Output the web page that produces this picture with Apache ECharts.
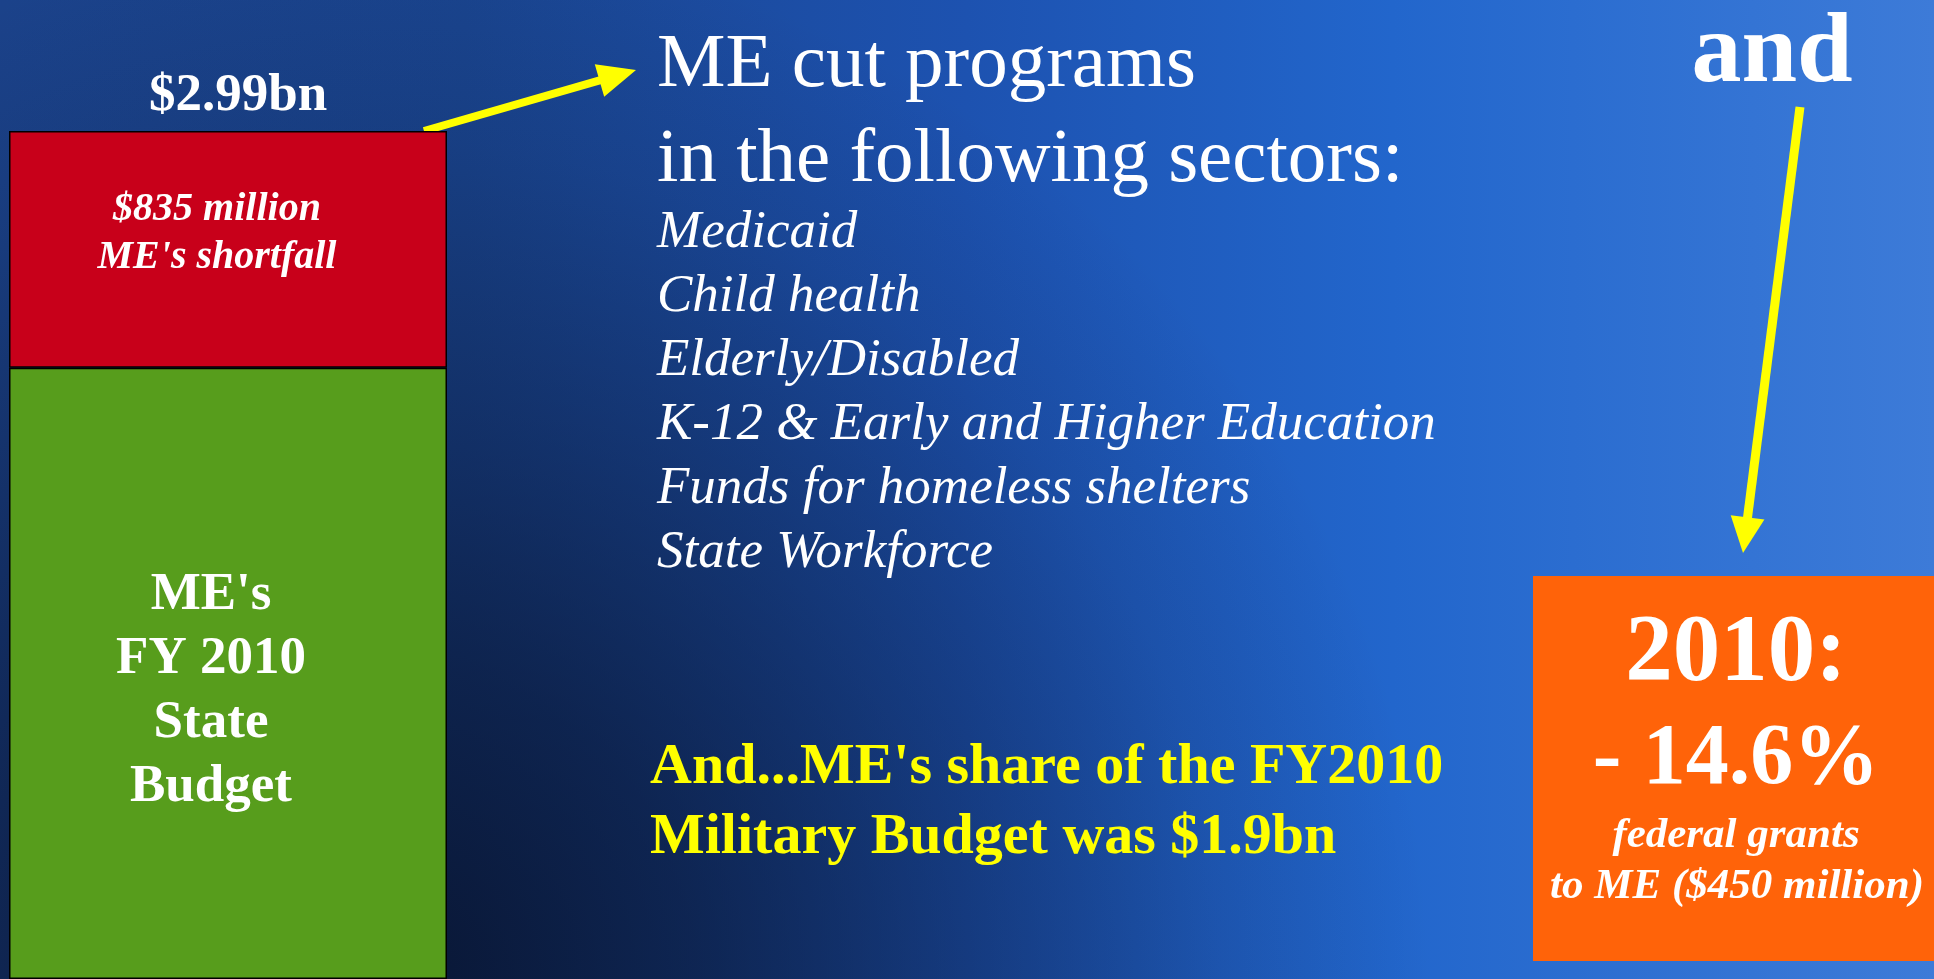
<!DOCTYPE html>
<html>
<head>
<meta charset="utf-8">
<script src="https://cdn.jsdelivr.net/npm/echarts@6/dist/echarts.min.js"></script>
<style>html,body{margin:0;padding:0;background:#0e1d40;}#c{width:1934px;height:979px;}</style>
</head>
<body>
<div id="c"></div>
<script>
// ---- data ----
const categories = ["ME FY 2010"];
const budgetValues = [2.155];      // ME's FY 2010 State Budget (bn)
const shortfallValues = [0.835];   // ME's shortfall (bn)
const totalText = "$2.99bn";
const shortfallLabelLines = ["$835 million", "ME's shortfall"];
const budgetLabelLines = ["ME's", "FY 2010", "State", "Budget"];
const headingLines = ["ME cut programs", "in the following sectors:"];
const sectorLines = ["Medicaid", "Child health", "Elderly/Disabled", "K-12 & Early and Higher Education", "Funds for homeless shelters", "State Workforce"];
const militaryLines = ["And...ME's share of the FY2010", "Military Budget was $1.9bn"];
const andText = "and";
const grantLines = ["2010:", "- 14.6%", "federal grants", "to ME ($450 million)"];

const totals = budgetValues.map((v, i) => +(v + shortfallValues[i]).toFixed(3));
const SERIF = '"Liberation Serif", "Times New Roman", serif';

function arrow(x1, y1, x2, y2, lw, headLen, headHalf, z) {
  const dx = x2 - x1, dy = y2 - y1, L = Math.hypot(dx, dy);
  const ux = dx / L, uy = dy / L, nx = -uy, ny = ux;
  const bx = x2 - ux * headLen, by = y2 - uy * headLen;
  return [
    { type: 'line', z: z, shape: { x1: x1, y1: y1, x2: bx + ux * 2, y2: by + uy * 2 }, style: { stroke: '#ffff00', lineWidth: lw } },
    { type: 'polygon', z: z, shape: { points: [[x2, y2], [bx + nx * headHalf, by + ny * headHalf], [bx - nx * headHalf, by - ny * headHalf]] }, style: { fill: '#ffff00' } }
  ];
}
function txt(s, x, y, font, fill, align) {
  return { type: 'text', z: 5, x: x, y: y, style: { text: s, font: font, fill: fill, textAlign: align || 'left', textVerticalAlign: 'middle' } };
}

const graphics = [];
// background shading overlay (dark glow bottom-left)
graphics.push({
  type: 'rect', z: -10, silent: true,
  shape: { x: 0, y: 0, width: 1934, height: 979 },
  style: { fill: { type: 'radial', x: 380, y: 979, r: 1050, global: true,
    colorStops: [
      { offset: 0, color: 'rgba(6,14,36,0.85)' },
      { offset: 0.3, color: 'rgba(6,14,36,0.62)' },
      { offset: 0.55, color: 'rgba(6,14,36,0.36)' },
      { offset: 0.8, color: 'rgba(6,14,36,0.12)' },
      { offset: 1, color: 'rgba(6,14,36,0)' } ] } }
});
// arrows
arrow(424, 131, 636, 70, 8, 38, 17, 1).forEach(g => graphics.push(g));
arrow(1800, 107, 1743, 553, 9, 36, 17, 1).forEach(g => graphics.push(g));
// heading
headingLines.forEach((s, i) => graphics.push(txt(s, 657, 66 + i * 95, '77px ' + SERIF, '#ffffff')));
sectorLines.forEach((s, i) => graphics.push(txt(s, 657, 233 + i * 64, 'italic 53px ' + SERIF, '#ffffff')));
militaryLines.forEach((s, i) => graphics.push(txt(s, 650, 768 + i * 70, 'bold 58px ' + SERIF, '#ffff00')));
graphics.push(txt(andText, 1772, 55, 'bold 100px ' + SERIF, '#ffffff', 'center'));
// orange box
graphics.push({ type: 'rect', z: 3, shape: { x: 1533, y: 576, width: 401, height: 385 }, style: { fill: '#ff6309' } });
graphics.push(txt(grantLines[0], 1736, 655, 'bold 95px ' + SERIF, '#ffffff', 'center'));
graphics.push(txt(grantLines[1], 1736, 761, 'bold 86px ' + SERIF, '#ffffff', 'center'));
graphics.push(txt(grantLines[2], 1736, 836, 'italic bold 43px ' + SERIF, '#ffffff', 'center'));
graphics.push(txt(grantLines[3], 1737, 887, 'italic bold 43px ' + SERIF, '#ffffff', 'center'));

const chart = echarts.init(document.getElementById('c'), null, { renderer: 'canvas' });
chart.setOption({
  animation: false,
  backgroundColor: { type: 'linear', x: 0, y: 0, x2: 1, y2: 0,
    colorStops: [ { offset: 0, color: '#1b428a' }, { offset: 0.24, color: '#1a4590' }, { offset: 0.5, color: '#1d52b0' }, { offset: 0.72, color: '#2266cc' }, { offset: 1, color: '#3d7bd8' } ] },
  grid: { left: 9, top: 131, width: 438, bottom: 0 },
  xAxis: { type: 'category', data: categories, show: false },
  yAxis: { type: 'value', min: 0, max: 2.99, show: false },
  series: [
    { name: 'State Budget', type: 'bar', stack: 'b', data: budgetValues, barWidth: '100%',
      itemStyle: { color: '#579d1c', borderColor: '#000000', borderWidth: 1.5 },
      label: { show: true, position: 'inside', offset: [-17, 18], formatter: budgetLabelLines.join('\n'),
        color: '#ffffff', fontFamily: SERIF, fontWeight: 'bold', fontSize: 53, lineHeight: 64 } },
    { name: 'Shortfall', type: 'bar', stack: 'b', data: shortfallValues, barWidth: '100%',
      itemStyle: { color: '#c8001a', borderColor: '#000000', borderWidth: 1.5 },
      label: { show: true, position: 'inside', offset: [-11, -15.5], formatter: shortfallLabelLines.join('\n'),
        color: '#ffffff', fontFamily: SERIF, fontWeight: 'bold', fontStyle: 'italic', fontSize: 40, lineHeight: 48 } },
    { name: 'Total', type: 'scatter', data: totals, symbolSize: 1, itemStyle: { color: 'rgba(0,0,0,0)', opacity: 1 },
      label: { show: true, position: 'inside', offset: [10, -35], formatter: totalText,
        color: '#ffffff', opacity: 1, fontFamily: SERIF, fontWeight: 'bold', fontSize: 53 } }
  ],
  graphic: graphics
});
</script>
</body>
</html>
